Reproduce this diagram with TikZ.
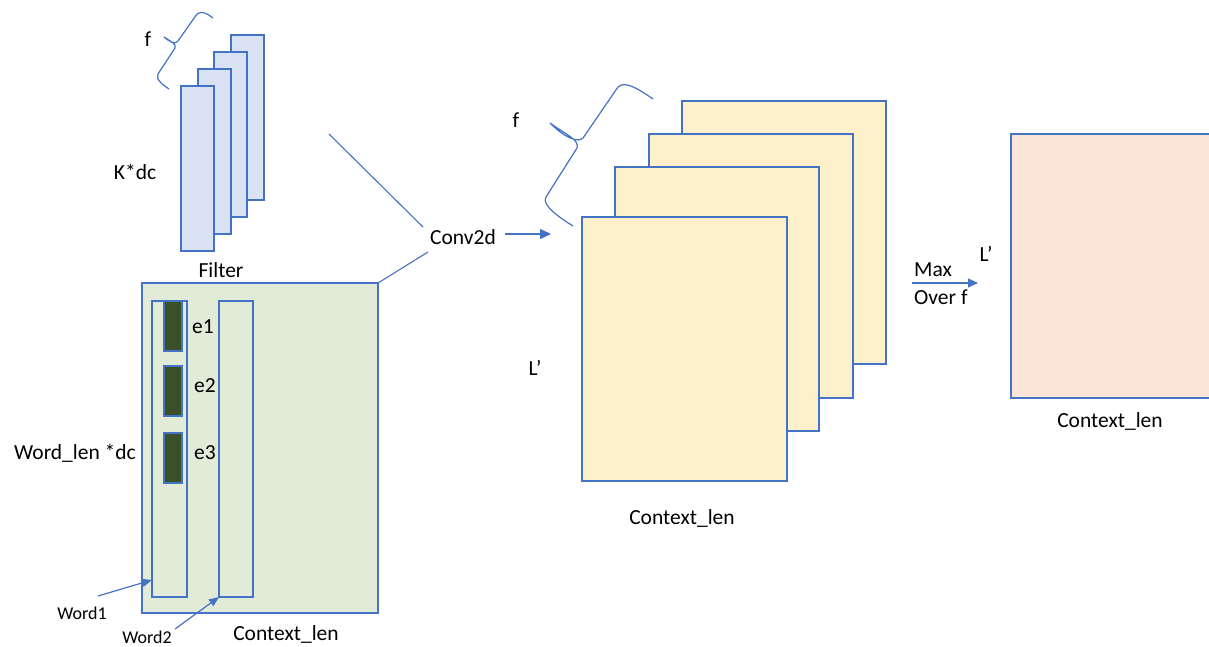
\documentclass[tikz,border=0pt]{standalone}
\usepackage{fontspec}
\setmainfont{Carlito}
\usetikzlibrary{arrows.meta}
\definecolor{ob}{HTML}{4472C4}
\definecolor{fblue}{HTML}{DAE3F3}
\definecolor{fgreen}{HTML}{E2EBD7}
\definecolor{dgreen}{HTML}{3A5128}
\definecolor{fyellow}{HTML}{FDF1CC}
\definecolor{fpink}{HTML}{FAE5D7}
\begin{document}
\begin{tikzpicture}[x=1pt,y=-1pt,
  box/.style={draw=ob, line width=1.2pt, inner sep=0pt, outer sep=0pt, anchor=north west},
  lbl/.style={font=\fontsize{21.5}{25}\selectfont, inner sep=0pt},
  slbl/.style={font=\fontsize{18}{22}\selectfont, inner sep=0pt},
  conn/.style={draw=ob, line width=1.1pt},
  arr/.style={draw=ob, line width=1.2pt, -{Triangle[length=11pt,width=10pt]}},
  brc/.style={draw=ob, line width=1.2pt, line join=round}]
\useasboundingbox (0,0) rectangle (1209,647);
\clip (0,0) rectangle (1209,647);

% Filters
\node[box, fill=fblue, minimum width=33pt, minimum height=165pt] (f4) at (231,35) {};
\node[box, fill=fblue, minimum width=33pt, minimum height=165pt] (f3) at (214,52) {};
\node[box, fill=fblue, minimum width=33pt, minimum height=165pt] (f2) at (198,69) {};
\node[box, fill=fblue, minimum width=33pt, minimum height=165pt] (f1) at (181,86) {};
\draw[brc] (213,18) .. controls (208,14) and (201,10) .. (197,14) -- (178,41)
  .. controls (175,45) and (170,42) .. (164,37)
  .. controls (170,41) and (177,44) .. (175,48) -- (158,74)
  .. controls (155,79) and (163,85) .. (169,89);
\node[lbl] (ff) at (148,39) {f};
\node[lbl] (kdc) at (135,172) {K*dc};
\node[lbl] (filt) at (221,270) {Filter};

% Green input
\node[box, fill=fgreen, minimum width=236pt, minimum height=330pt] (inp) at (142,283) {};
\node[box, minimum width=35pt, minimum height=296pt] (w1) at (152,301) {};
\node[box, minimum width=34pt, minimum height=296pt] (w2) at (219,301) {};
\node[box, fill=dgreen, minimum width=18pt, minimum height=50pt] (e1b) at (164,301) {};
\node[box, fill=dgreen, minimum width=18pt, minimum height=50pt] (e2b) at (164,366) {};
\node[box, fill=dgreen, minimum width=18pt, minimum height=50pt] (e3b) at (164,433) {};
\node[lbl] (e1) at (203,327) {e1};
\node[lbl] (e2) at (205,386) {e2};
\node[lbl] (e3) at (205,453) {e3};
\node[lbl] (wl) at (75,453) {Word\_len *dc};
\node[slbl] (word1) at (82,613) {Word1};
\node[slbl] (word2) at (147,637) {Word2};
\node[lbl] (cl1) at (286,634) {Context\_len};
\coordinate (w1s) at (98,596);
\coordinate (w1e) at (152,580);
\coordinate (w2s) at (175,629);
\draw[arr, -{Triangle[length=10pt,width=8pt]}] (w1s) -- (w1e);
\draw[arr, -{Triangle[length=10pt,width=8pt]}] (w2s) -- (w2.south west);

% Conv2d
\node[lbl] (conv) at (463,237) {Conv2d};
\coordinate (c1s) at (329,134);
\coordinate (c1e) at (423,227);
\coordinate (c2e) at (428,252);
\draw[conn] (c1s) -- (c1e);
\draw[conn] (inp.north east) -- (c2e);
\coordinate (a1s) at (505,234);
\coordinate (a1e) at (551,234);
\draw[arr] (a1s) -- (a1e);

% Yellow feature maps
\node[box, fill=fyellow, minimum width=204pt, minimum height=263pt] (y4) at (682,101) {};
\node[box, fill=fyellow, minimum width=204pt, minimum height=264pt] (y3) at (649,134) {};
\node[box, fill=fyellow, minimum width=204pt, minimum height=264pt] (y2) at (615,167) {};
\node[box, fill=fyellow, minimum width=205pt, minimum height=264pt] (y1) at (582,217) {};
\draw[brc] (653,99) .. controls (640,90) and (625,80) .. (618,87) -- (583,138)
  .. controls (578,143) and (565,138) .. (550,123)
  .. controls (565,134) and (580,140) .. (577,148) -- (546,197)
  .. controls (541,205) and (560,218) .. (573,226);
\node[lbl] (yf) at (516,120) {f};
\node[lbl] (yl) at (535,368) {L’};
\node[lbl] (cl2) at (682,518) {Context\_len};

% Max over f
\coordinate (ms) at (912,283);
\coordinate (me) at (978,283);
\draw[arr, -{Triangle[length=10pt,width=9pt]}] (ms) -- (me);
\node[lbl, anchor=west] (max) at (914,270) {Max};
\node[lbl, anchor=west] (over) at (914,297) {Over f};
\node[lbl] (pl) at (986,254) {L’};

% Pink output
\node[box, fill=fpink, minimum width=220pt, minimum height=264pt] (out) at (1011,134) {};
\node[lbl] (cl3) at (1110,421) {Context\_len};
\end{tikzpicture}
\end{document}
